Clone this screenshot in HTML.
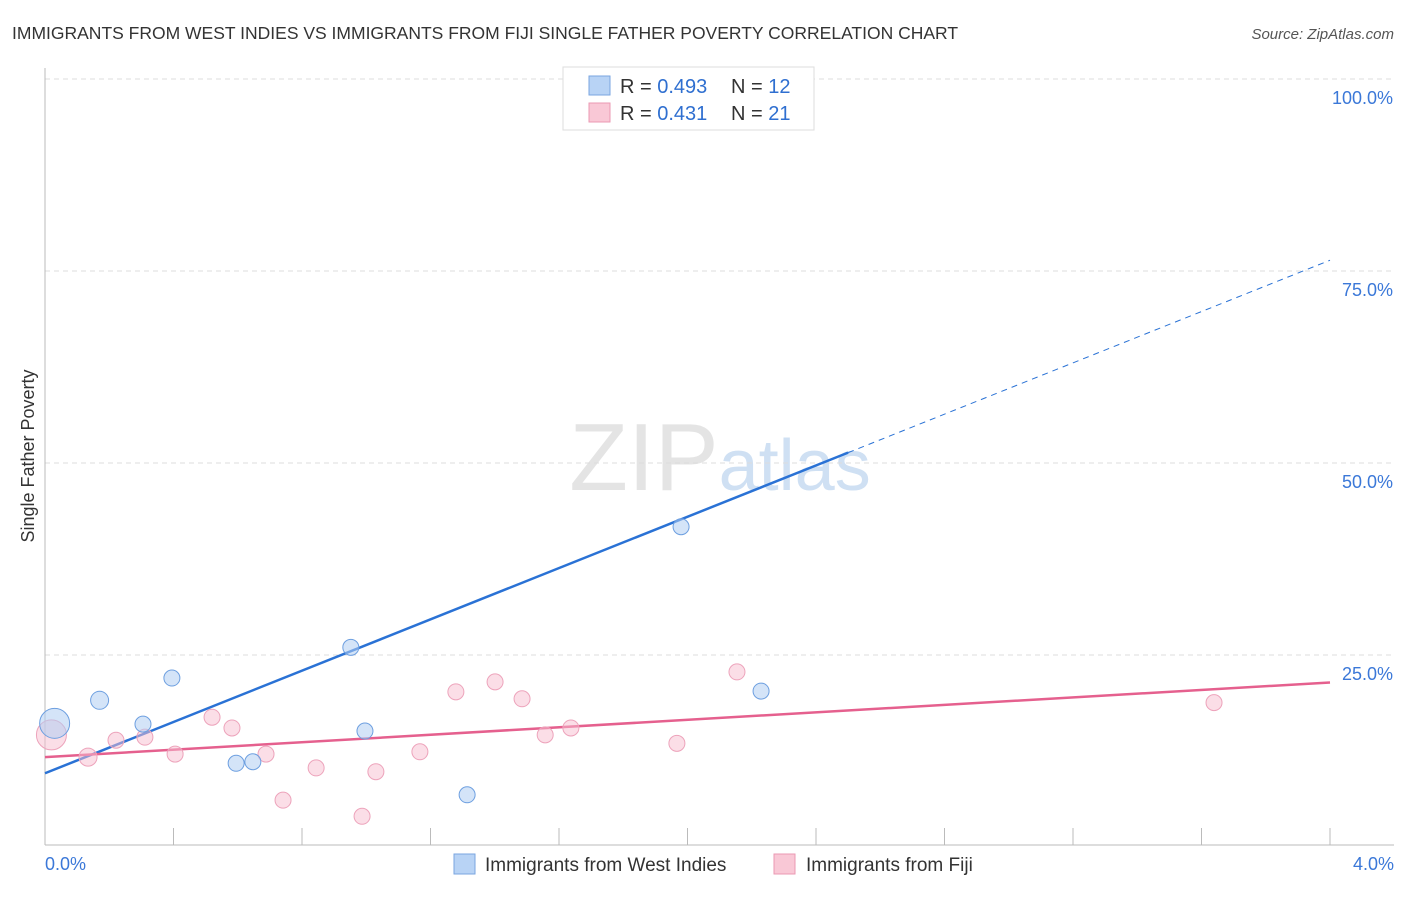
<!DOCTYPE html>
<html><head><meta charset="utf-8">
<style>
body{margin:0;background:#fff;font-family:"Liberation Sans",sans-serif;}
svg text{font-family:"Liberation Sans",sans-serif;}
</style></head>
<body>
<svg id="chart" width="1406" height="892" xmlns="http://www.w3.org/2000/svg">
<text x="12" y="39" font-size="17.5" fill="#333">IMMIGRANTS FROM WEST INDIES VS IMMIGRANTS FROM FIJI SINGLE FATHER POVERTY CORRELATION CHART</text>
<text x="1394" y="39" font-size="15" fill="#555" text-anchor="end" font-style="italic">Source: ZipAtlas.com</text>
<text x="720" y="490" font-size="96" text-anchor="middle" fill="#e4e4e4" font-family="Liberation Serif">ZIP<tspan fill="#cfe0f3" font-family="Liberation Sans" font-size="72">atlas</tspan></text>
<text transform="translate(34,456) rotate(-90)" font-size="18" fill="#333" text-anchor="middle">Single Father Poverty</text>
<g id="grid"></g>
<g id="axes"></g>
<g id="lines"></g>
<g id="points"></g>
<g>
<rect x="563" y="67" width="251" height="63" fill="#fff" stroke="#ddd"/>
<rect x="589" y="76" width="21" height="19" fill="#b8d3f5" stroke="#7aa6e0"/>
<rect x="589" y="103" width="21" height="19" fill="#f9c8d6" stroke="#eb99b3"/>
<text x="620" y="93" font-size="20" fill="#333">R = <tspan fill="#2f6fd0">0.493</tspan>  <tspan x="731">N = </tspan><tspan fill="#2f6fd0">12</tspan></text>
<text x="620" y="120" font-size="20" fill="#333">R =  <tspan fill="#2f6fd0">0.431</tspan>  <tspan x="731">N = </tspan><tspan fill="#2f6fd0">21</tspan></text>
</g>
<g>
<rect x="454" y="854" width="21" height="20" fill="#b8d3f5" stroke="#7aa6e0"/>
<text x="485" y="871" font-size="19" fill="#333">Immigrants from West Indies</text>
<rect x="774" y="854" width="21" height="20" fill="#f9c8d6" stroke="#eb99b3"/>
<text x="806" y="871" font-size="19" fill="#333">Immigrants from Fiji</text>
</g>
</svg>
<script>
const xTicks=[0,0.4,0.8,1.2,1.6,2.0,2.4,2.8,3.2,3.6,4.0];
const yTicks=[25,50,75,100];
const yTickLabels=["25.0%","50.0%","75.0%","100.0%"];
const xLabels=["0.0%","4.0%"];
const blueX=[0.03,0.17,0.305,0.395,0.595,0.647,0.952,0.996,1.314,1.98,2.229,1.84];
const blueY=[16.1,19.1,16.0,22.0,10.9,11.1,26.0,15.1,6.8,41.7,20.3,100];
const blueR=[15,9,8,8,8,8,8,8,8,8,8,8];
const pinkX=[0.02,0.134,0.221,0.311,0.405,0.52,0.582,0.688,0.741,0.844,0.987,1.03,1.167,1.279,1.401,1.485,1.557,1.637,1.967,2.154,3.639];
const pinkY=[14.6,11.7,13.9,14.3,12.1,16.9,15.5,12.1,6.1,10.3,4.0,9.8,12.4,20.2,21.5,19.3,14.6,15.5,13.5,22.8,18.8];
const pinkR=[15,9,8,8,8,8,8,8,8,8,8,8,8,8,8,8,8,8,8,8,8];
const blueTrend=[9.6,16.7];   // intercept, slope
const pinkTrend=[11.7,2.43];
const NS="http://www.w3.org/2000/svg";
const X=v=>45+v/4*1285;
const Y=v=>847-v/100*768;
function mk(tag,attrs,parent){const e=document.createElementNS(NS,tag);for(const k in attrs)e.setAttribute(k,attrs[k]);document.getElementById(parent).appendChild(e);return e;}
yTicks.forEach((t,i)=>{
 const g=mk('line',{x1:45,x2:1394,y1:Y(t),y2:Y(t),stroke:'#ddd','stroke-dasharray':'5,4'},'grid');
 
 
 const l=mk('text',{x:1393,y:Y(t)+25,'font-size':18,fill:'#3b78d8','text-anchor':'end'},'grid');
 l.textContent=yTickLabels[i];
 
 
});
const ax=mk('line',{x1:45,x2:45,y1:68,y2:845,stroke:'#bbb'},'axes');


const bx=mk('line',{x1:45,x2:1394,y1:845,y2:845,stroke:'#bbb'},'axes');


xTicks.forEach(t=>{
 const tk=mk('line',{x1:X(t),x2:X(t),y1:828,y2:845,stroke:'#bbb'},'axes');
 
 
});
[[0,'start',45],[4,'end',1394]].forEach((d,i)=>{
 const t=mk('text',{x:d[2],y:870,'font-size':18,fill:'#3b78d8','text-anchor':d[1]},'axes');
 t.textContent=xLabels[i];
 
 
});
// trend lines
const bEnd=2.5;
const bl=mk('line',{x1:X(0),y1:Y(blueTrend[0]),x2:X(bEnd),y2:Y(blueTrend[0]+blueTrend[1]*bEnd),stroke:'#2a72d5','stroke-width':2.5},'lines');


const bd=mk('line',{x1:X(bEnd),y1:Y(blueTrend[0]+blueTrend[1]*bEnd),x2:X(4),y2:Y(blueTrend[0]+blueTrend[1]*4),stroke:'#2a72d5','stroke-width':1,'stroke-dasharray':'6,5'},'lines');


const pl=mk('line',{x1:X(0),y1:Y(pinkTrend[0]),x2:X(4),y2:Y(pinkTrend[0]+pinkTrend[1]*4),stroke:'#e5608e','stroke-width':2.5},'lines');


pinkX.forEach((x,i)=>{
 const c=mk('circle',{cx:X(x),cy:Y(pinkY[i]),r:pinkR[i],fill:'rgba(248,190,208,0.5)',stroke:'#eda3bb','stroke-width':1},'points');
 
 
});
blueX.forEach((x,i)=>{
 const c=mk('circle',{cx:X(x),cy:Y(blueY[i]),r:blueR[i],fill:'rgba(176,205,243,0.55)',stroke:'#6d9fe0','stroke-width':1},'points');
 
 
});
</script>
</body></html>
